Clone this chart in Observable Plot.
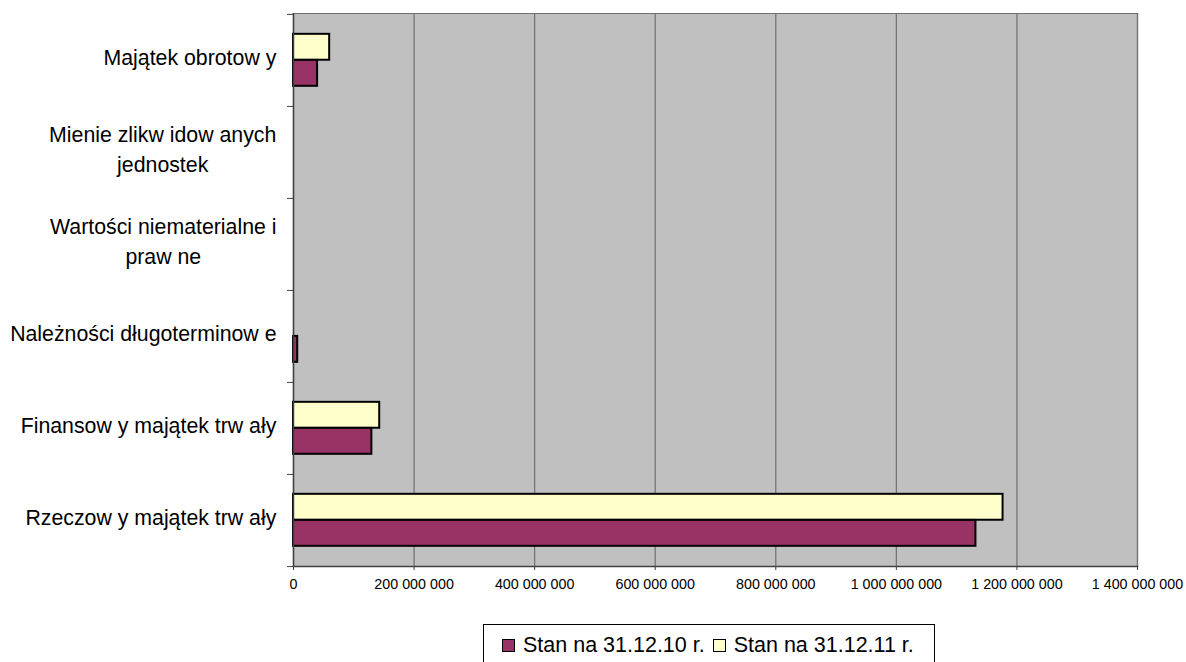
<!DOCTYPE html>
<html>
<head>
<meta charset="utf-8">
<script src="https://cdn.jsdelivr.net/npm/d3@7"></script>
<script src="https://cdn.jsdelivr.net/npm/@observablehq/plot@0.6"></script>
<style>
  html, body { margin: 0; padding: 0; background: #fff; overflow: hidden; }
  body { width: 1186px; height: 662px; position: relative; font-family: "Liberation Sans", Arial, sans-serif; }
  #chart { position: absolute; left: 0; top: 0; }
  #legend {
    position: absolute; left: 483px; top: 624px; width: 452px; height: 42px;
    box-sizing: border-box; border: 1px solid #000; background: #fff;
    display: flex; align-items: center; padding-left: 18px;
    font-size: 21.5px; color: #000; white-space: nowrap;
  }
  #legend .sw { width: 11px; height: 11px; border: 1px solid #000; margin-right: 8px; flex: none; }
  #legend .item { display: flex; align-items: center; margin-right: 8px; }
</style>
</head>
<body>
<div id="chart"></div>
<div id="legend"></div>
<script>
// ---- data ----
const categories = [
  "Majątek obrotow y",
  "Mienie zlikw idow anych\njednostek",
  "Wartości niematerialne i\npraw ne",
  "Należności długoterminow e",
  "Finansow y majątek trw ały",
  "Rzeczow y majątek trw ały"
];
const series = ["Stan na 31.12.10 r.", "Stan na 31.12.11 r."];
const values2010 = [40e6, 0, 0, 7e6, 130e6, 1132e6];
const values2011 = [60e6, 0, 0, 0, 143e6, 1177e6];
const xTicks = [0, 200e6, 400e6, 600e6, 800e6, 1000e6, 1200e6, 1400e6];
const seriesColors = ["#993366", "#FFFFCC"];

// ---- layout ----
const W = 1186, H = 606, mL = 293, mR = 49, mT = 13, mB = 40;
const step = (H - mT - mB) / categories.length;
const gapFrac = 0.215, barFrac = 0.283;

const rows2010 = categories.map((c, i) => ({cat: c, series: series[0], value: values2010[i]})).filter(d => d.value > 0);
const rows2011 = categories.map((c, i) => ({cat: c, series: series[1], value: values2011[i]})).filter(d => d.value > 0);

const fmt = d => d3.format(",")(d).replace(/,/g, " ");

const chart = Plot.plot({
  width: W, height: H,
  marginLeft: mL, marginRight: mR, marginTop: mT, marginBottom: mB,
  style: {fontFamily: "'Liberation Sans', Arial, sans-serif", background: "#fff", color: "#000", overflow: "visible"},
  x: {domain: [0, 1400e6], label: null},
  y: {domain: categories, padding: 0, label: null},
  color: {domain: series, range: seriesColors},
  marks: [
    Plot.frame({fill: "#C0C0C0", stroke: null}),
    Plot.gridX(xTicks, {stroke: "#707070", strokeOpacity: 1, strokeWidth: 1.2}),
    Plot.frame({anchor: "top", stroke: "#707070", strokeWidth: 1.2}),
    Plot.frame({anchor: "right", stroke: "#707070", strokeWidth: 1.2}),
    Plot.barX(rows2011, {x: "value", y: "cat", fill: "series", stroke: "#000", strokeWidth: 2,
      insetTop: step * gapFrac, insetBottom: step * (1 - gapFrac - barFrac)}),
    Plot.barX(rows2010, {x: "value", y: "cat", fill: "series", stroke: "#000", strokeWidth: 2,
      insetTop: step * (gapFrac + barFrac), insetBottom: step * (1 - gapFrac - 2 * barFrac)}),
    Plot.ruleX([0], {stroke: "#404040", strokeWidth: 1.5}),
    Plot.frame({anchor: "bottom", stroke: "#404040", strokeWidth: 1.5}),
    Plot.axisY(categories, {tickSize: 6, text: null, dy: -step / 2, stroke: "#404040", label: null}),
    Plot.axisY([categories[categories.length - 1]], {tickSize: 6, text: null, dy: step / 2, stroke: "#404040", label: null}),
    Plot.axisY(categories, {tickSize: 0, tickPadding: 17, dy: -5, fontSize: 21.3, lineHeight: 1.41, textAnchor: "end", label: null, fill: "#000"}),
    Plot.axisX(xTicks, {tickSize: 4, tickPadding: 8, fontSize: 14.3, tickFormat: fmt, label: null, stroke: "#404040", fill: "#000"})
  ]
});
document.getElementById("chart").appendChild(chart);

// center multi-line category labels as blocks, right-aligned to the axis
chart.querySelectorAll('g[aria-label="y-axis tick label"] text').forEach(t => {
  const bb = t.getBBox();
  t.setAttribute("text-anchor", "middle");
  const tr = t.getAttribute("transform") || "";
  t.setAttribute("transform", tr + ` translate(${-bb.width / 2},0)`);
});

// legend
const legend = document.getElementById("legend");
series.forEach((s, i) => {
  const item = document.createElement("div");
  item.className = "item";
  const sw = document.createElement("span");
  sw.className = "sw";
  sw.style.background = seriesColors[i];
  const tx = document.createElement("span");
  tx.textContent = s;
  item.appendChild(sw); item.appendChild(tx);
  legend.appendChild(item);
});
</script>
</body>
</html>
